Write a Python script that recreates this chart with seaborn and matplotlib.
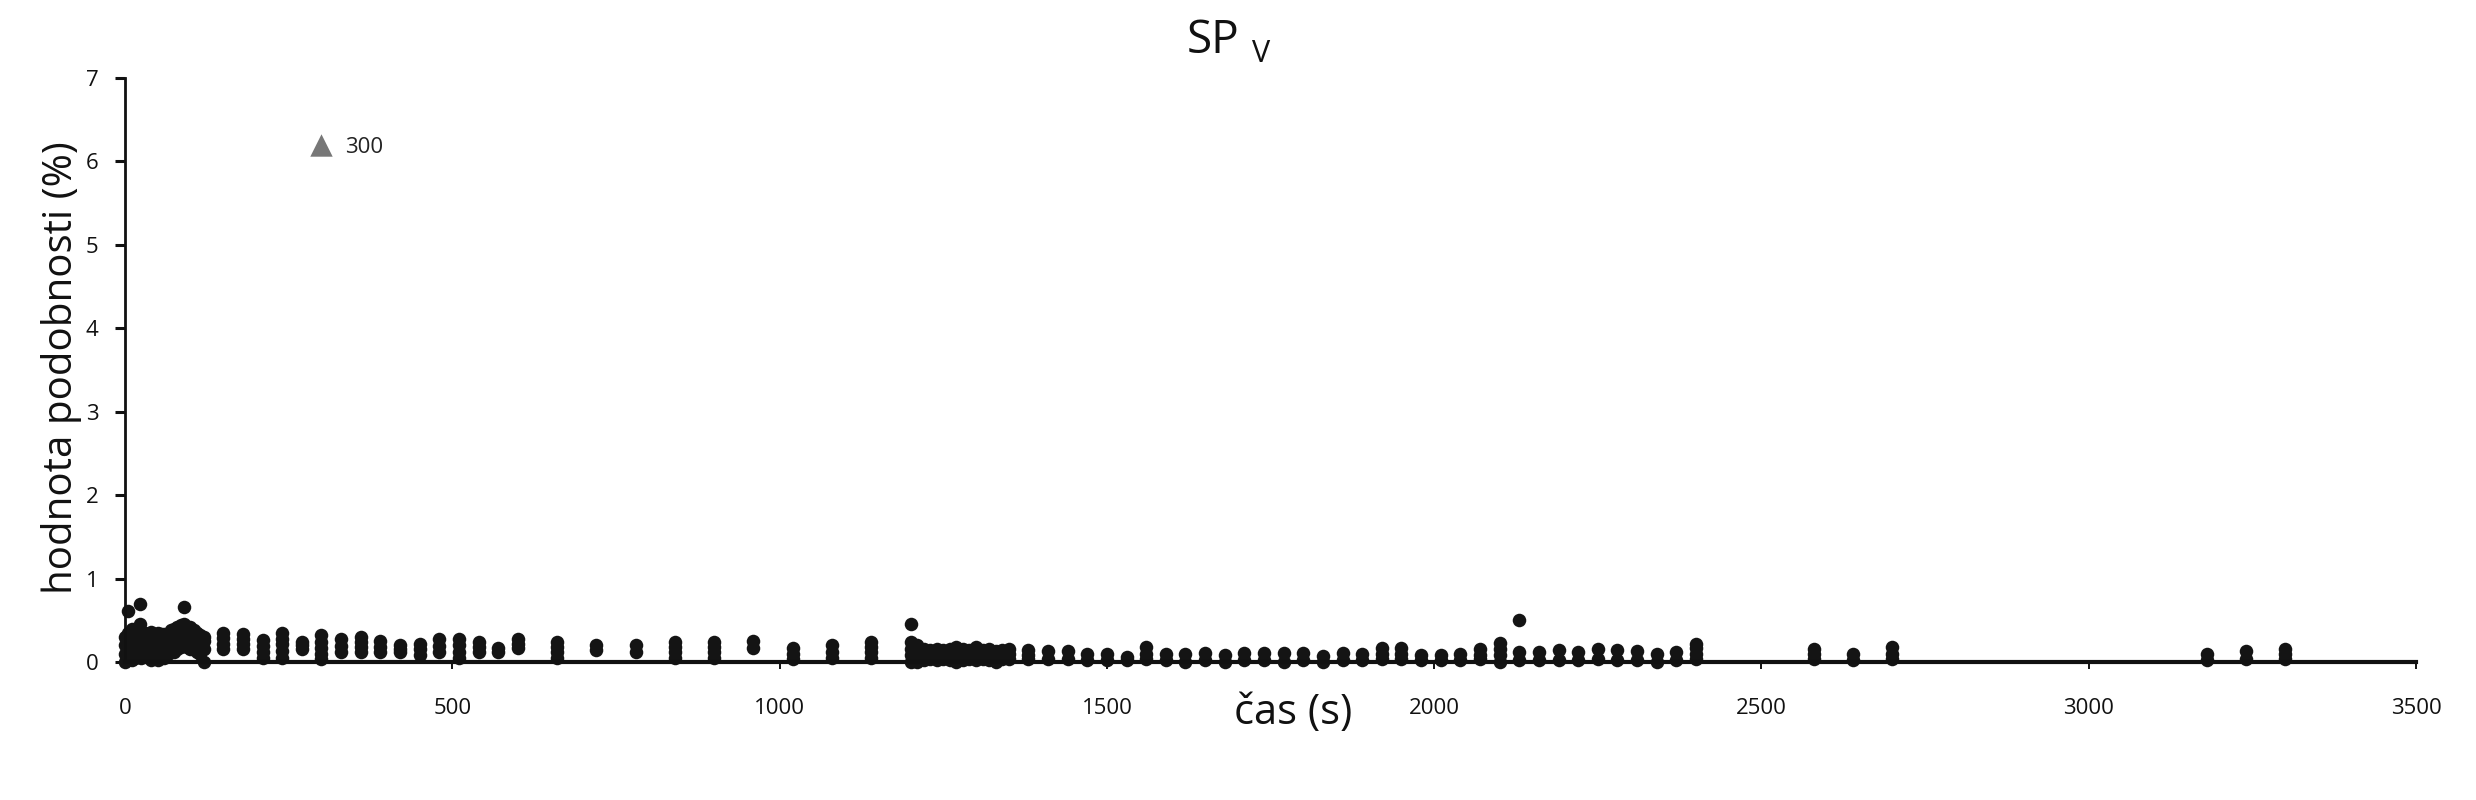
import matplotlib
matplotlib.use("Agg")
import matplotlib.pyplot as plt
import seaborn as sns
import pandas as pd

# ---------------- data ----------------
early_t = [0, 5, 10, 15, 20, 23, 25, 30, 35, 40, 45, 50, 55, 60, 65, 70, 75,
           80, 85, 90, 95, 100, 105, 110, 115, 120]
early_v = [
    [0.0, 0.1, 0.2, 0.3],
    [0.05, 0.15, 0.25, 0.35, 0.61],
    [0.02, 0.12, 0.22, 0.32, 0.40],
    [0.05, 0.15, 0.25, 0.33],
    [0.08, 0.18, 0.28, 0.36],
    [0.46, 0.70],
    [0.05, 0.12, 0.22, 0.30],
    [0.10, 0.20, 0.28, 0.35],
    [0.08, 0.16, 0.26, 0.32],
    [0.02, 0.12, 0.22, 0.30, 0.36],
    [0.05, 0.15, 0.25, 0.34],
    [0.02, 0.10, 0.20, 0.30, 0.35],
    [0.10, 0.18, 0.28, 0.33],
    [0.05, 0.12, 0.22, 0.30, 0.34],
    [0.10, 0.20, 0.27, 0.32],
    [0.15, 0.25, 0.32, 0.38],
    [0.12, 0.20, 0.30, 0.40],
    [0.15, 0.25, 0.35, 0.42],
    [0.18, 0.28, 0.38, 0.44],
    [0.20, 0.30, 0.40, 0.45, 0.66],
    [0.18, 0.28, 0.38, 0.42],
    [0.15, 0.25, 0.35, 0.42],
    [0.15, 0.25, 0.33, 0.38],
    [0.12, 0.22, 0.30, 0.35],
    [0.10, 0.20, 0.28, 0.32],
    [0.0, 0.15, 0.25, 0.30],
]

mid_t = [150, 180, 210, 240, 270, 300, 330, 360, 390, 420, 450, 480, 510,
         540, 570, 600]
mid_v = [
    [0.15, 0.22, 0.29, 0.35],
    [0.15, 0.22, 0.28, 0.34],
    [0.05, 0.12, 0.19, 0.26],
    [0.05, 0.13, 0.21, 0.28, 0.35],
    [0.15, 0.20, 0.24],
    [0.03, 0.10, 0.17, 0.24, 0.32],
    [0.12, 0.19, 0.27],
    [0.12, 0.18, 0.24, 0.30],
    [0.12, 0.18, 0.25],
    [0.12, 0.16, 0.20],
    [0.08, 0.15, 0.22],
    [0.12, 0.19, 0.27],
    [0.05, 0.12, 0.20, 0.28],
    [0.12, 0.18, 0.24],
    [0.12, 0.17],
    [0.17, 0.22, 0.28],
]

minute_t = [660, 720, 780, 840, 900, 960, 1020, 1080, 1140, 1200]
minute_v = [
    [0.05, 0.12, 0.18, 0.24],
    [0.14, 0.20],
    [0.12, 0.20],
    [0.05, 0.12, 0.18, 0.24],
    [0.05, 0.12, 0.18, 0.24],
    [0.17, 0.25],
    [0.03, 0.10, 0.17],
    [0.05, 0.12, 0.20],
    [0.05, 0.12, 0.18, 0.24],
    [0.0, 0.08, 0.16, 0.24, 0.46],
]

dense_t = [1210, 1220, 1230, 1240, 1250, 1260, 1270, 1280, 1290, 1300, 1310,
           1320, 1330, 1340, 1350]
dense_v = [
    [0.0, 0.08, 0.15, 0.20],
    [0.02, 0.10, 0.15],
    [0.03, 0.10, 0.14],
    [0.02, 0.08, 0.15],
    [0.03, 0.10, 0.14],
    [0.02, 0.09, 0.16],
    [0.0, 0.10, 0.18],
    [0.02, 0.08, 0.15],
    [0.03, 0.10, 0.14],
    [0.02, 0.09, 0.18],
    [0.03, 0.10, 0.14],
    [0.02, 0.08, 0.15],
    [0.0, 0.07, 0.13],
    [0.03, 0.09, 0.14],
    [0.03, 0.10, 0.16],
]

late_t = [1380, 1410, 1440, 1470, 1500, 1530, 1560, 1590, 1620, 1650, 1680,
          1710, 1740, 1770, 1800, 1830, 1860, 1890, 1920, 1950, 1980, 2010,
          2040, 2070, 2100, 2130, 2160, 2190, 2220, 2250, 2280, 2310, 2340,
          2370, 2400]
late_v = [
    [0.03, 0.08, 0.14], [0.03, 0.13], [0.03, 0.13], [0.02, 0.10],
    [0.02, 0.10], [0.02, 0.06], [0.03, 0.10, 0.18], [0.02, 0.10],
    [0.0, 0.10], [0.02, 0.11], [0.0, 0.08], [0.02, 0.11],
    [0.02, 0.11], [0.0, 0.11], [0.02, 0.11], [0.0, 0.07],
    [0.02, 0.11], [0.02, 0.10], [0.03, 0.10, 0.17], [0.03, 0.10, 0.17],
    [0.02, 0.08], [0.02, 0.08], [0.02, 0.10], [0.03, 0.08, 0.15],
    [0.0, 0.08, 0.16, 0.23], [0.02, 0.12, 0.50], [0.02, 0.12], [0.02, 0.14],
    [0.02, 0.12], [0.03, 0.15], [0.02, 0.14], [0.02, 0.13],
    [0.0, 0.09], [0.02, 0.12], [0.03, 0.10, 0.17, 0.22],
]

end_t = [2580, 2640, 2700, 3180, 3240, 3300]
end_v = [
    [0.03, 0.10, 0.16],
    [0.02, 0.10],
    [0.03, 0.10, 0.18],
    [0.02, 0.10],
    [0.03, 0.13],
    [0.03, 0.10, 0.16],
]

outlier_t = [300]
outlier_v = [6.2]
outlier_label = "300"

x_ticks = [0, 500, 1000, 1500, 2000, 2500, 3000, 3500]
y_ticks = [0, 1, 2, 3, 4, 5, 6, 7]

title_main = "SP"
title_sub = "V"
x_label = "čas (s)"
y_label = "hodnota podobnosti (%)"

# ---------------- build long table ----------------
rows = []
for ts, vs in [(early_t, early_v), (mid_t, mid_v), (minute_t, minute_v),
               (dense_t, dense_v), (late_t, late_v), (end_t, end_v)]:
    for t, vals in zip(ts, vs):
        for v in vals:
            rows.append((t, v))
df = pd.DataFrame(rows, columns=["cas", "hodnota"])
df_out = pd.DataFrame({"cas": outlier_t, "hodnota": outlier_v})

# ---------------- plot ----------------
sns.set_style("white")
plt.rcParams["font.family"] = ["Open Sans", "DejaVu Sans"]

fig = plt.figure(figsize=(24.76, 8), dpi=100)
ax = fig.add_axes([0.0505, 0.1725, 0.9253, 0.73])

sns.scatterplot(data=df, x="cas", y="hodnota", ax=ax, color="#141414",
                marker="o", s=95, linewidth=0, legend=False)
sns.scatterplot(data=df_out, x="cas", y="hodnota", ax=ax, color="#777777",
                marker="^", s=260, linewidth=0, legend=False)
for coll in ax.collections:
    coll.set_clip_on(False)

ax.annotate(outlier_label, xy=(outlier_t[0], outlier_v[0]),
            xytext=(17, -2), textcoords="offset points",
            ha="left", va="center", fontsize=16, color="#222222")

ax.set_xlim(0, 3500)
ax.set_ylim(0, 7)
ax.set_xticks(x_ticks)
ax.set_yticks(y_ticks)
ax.set_xticklabels([str(v) for v in x_ticks])
ax.set_yticklabels([str(v) for v in y_ticks])

for side in ["top", "right"]:
    ax.spines[side].set_visible(False)
ax.spines["left"].set_linewidth(2.0)
ax.spines["bottom"].set_linewidth(3.0)
ax.spines["left"].set_color("#111111")
ax.spines["bottom"].set_color("#111111")

ax.tick_params(axis="x", direction="out", length=5, width=1.4, pad=21,
               labelsize=16, colors="#111111", bottom=True)
ax.tick_params(axis="y", direction="out", length=7, width=2.2, pad=12,
               labelsize=16, colors="#111111", left=True)

ax.set_xlabel(x_label, fontsize=30, color="#111111")
ax.xaxis.set_label_coords(0.510, -0.052)
ax.xaxis.label.set_va("top")
ax.set_ylabel("")

fig.text(62 / 2476, 1 - 368 / 800, y_label, rotation=90, ha="center",
         va="center", fontsize=29, color="#111111")

fig.text(1187 / 2476, 1 - 53 / 800, title_main, ha="left", va="baseline",
         fontsize=33, color="#111111")
fig.text(1252 / 2476, 1 - 62 / 800, title_sub, ha="left", va="baseline",
         fontsize=22, color="#111111")

fig.savefig("out.png", dpi=100, facecolor="white")
